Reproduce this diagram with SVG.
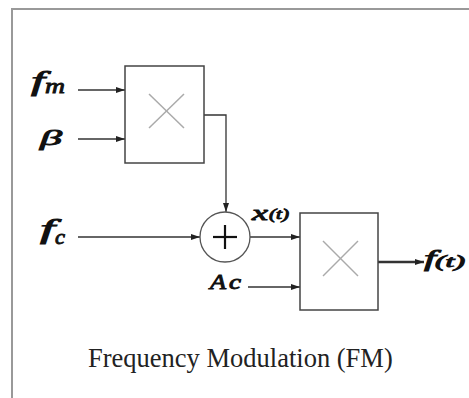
<svg xmlns="http://www.w3.org/2000/svg" width="469" height="398" viewBox="0 0 469 398">
<defs>
<marker id="arr" markerUnits="userSpaceOnUse" markerWidth="10" markerHeight="8" refX="9" refY="4" orient="auto" viewBox="0 0 10 8">
<path d="M0,1 L9,4 L0,7 Z" fill="#222"/>
</marker>
<style>
.frame{stroke:#999;stroke-width:2;fill:none}
.box{fill:#fff;stroke:#444;stroke-width:1.5}
.cross{stroke:#aaa;stroke-width:1.5}
.wire{stroke:#333;stroke-width:1.3;fill:none}
.lbl{font-family:"Liberation Serif","DejaVu Serif",serif;font-style:italic;fill:#111;stroke:#111;stroke-width:0.9}
.title{font-family:"Liberation Serif","Times New Roman",serif;font-size:26.5px;fill:#222}
</style>
</defs>
<rect width="469" height="398" fill="#fff"/>
<g id="frame">
<line class="frame" x1="12" y1="9" x2="469" y2="9"/>
<line class="frame" x1="12" y1="8" x2="12" y2="398"/>
</g>
<g id="connectors">
<line class="wire" x1="78" y1="90" x2="125" y2="90" marker-end="url(#arr)"/>
<line class="wire" x1="78" y1="139" x2="125" y2="139" marker-end="url(#arr)"/>
<polyline class="wire" points="204,115 226,115 226,212" marker-end="url(#arr)"/>
<line class="wire" x1="78" y1="237" x2="200" y2="237" marker-end="url(#arr)"/>
<line class="wire" x1="250" y1="237" x2="300" y2="237" marker-end="url(#arr)"/>
<line class="wire" x1="248" y1="287" x2="300" y2="287" marker-end="url(#arr)"/>
<line class="wire" x1="378" y1="262" x2="424" y2="262" style="stroke-width:2.5" marker-end="url(#arr)"/>
</g>
<g id="mult1">
<rect class="box" x="125" y="66" width="79" height="97"/>
<line class="cross" x1="149" y1="94" x2="184" y2="128"/>
<line class="cross" x1="184" y1="94" x2="149" y2="128"/>
</g>
<g id="sum">
<circle cx="225" cy="237" r="25" fill="#fff" stroke="#555" stroke-width="1.3"/>
<line x1="213" y1="237" x2="237" y2="237" stroke="#111" stroke-width="2.2"/>
<line x1="225" y1="225" x2="225" y2="249" stroke="#111" stroke-width="2.2"/>
</g>
<g id="mult2">
<rect class="box" x="300" y="213" width="78" height="97"/>
<line class="cross" x1="323" y1="241" x2="358" y2="276"/>
<line class="cross" x1="358" y1="241" x2="323" y2="276"/>
</g>
<g id="label-fm">
<text class="lbl" x="31" y="90" font-size="27" textLength="14" lengthAdjust="spacingAndGlyphs">f</text>
<text class="lbl" x="45" y="93" font-size="22" textLength="20" lengthAdjust="spacingAndGlyphs">m</text>
</g>
<g id="label-beta">
<text class="lbl" x="40" y="145" font-size="22" textLength="22" lengthAdjust="spacingAndGlyphs">β</text>
</g>
<g id="label-fc">
<text class="lbl" x="40" y="238" font-size="27" textLength="15" lengthAdjust="spacingAndGlyphs">f</text>
<text class="lbl" x="55" y="244" font-size="21" textLength="10" lengthAdjust="spacingAndGlyphs">c</text>
</g>
<g id="label-xt">
<text class="lbl" x="252" y="220" font-size="22" textLength="16" lengthAdjust="spacingAndGlyphs">x</text>
<text class="lbl" x="269" y="219" font-size="14" textLength="20" lengthAdjust="spacingAndGlyphs">(t)</text>
</g>
<g id="label-ac">
<text class="lbl" x="210" y="289" font-size="21" textLength="16" lengthAdjust="spacingAndGlyphs">A</text>
<text class="lbl" x="229" y="289" font-size="20" textLength="12" lengthAdjust="spacingAndGlyphs">c</text>
</g>
<g id="label-ft">
<text class="lbl" x="424" y="266" font-size="24" textLength="12" lengthAdjust="spacingAndGlyphs">f</text>
<text class="lbl" x="435" y="267" font-size="16" textLength="30" lengthAdjust="spacingAndGlyphs">(t)</text>
</g>
<g id="title">
<text class="title" x="88" y="367">Frequency Modulation (FM)</text>
</g>
</svg>
